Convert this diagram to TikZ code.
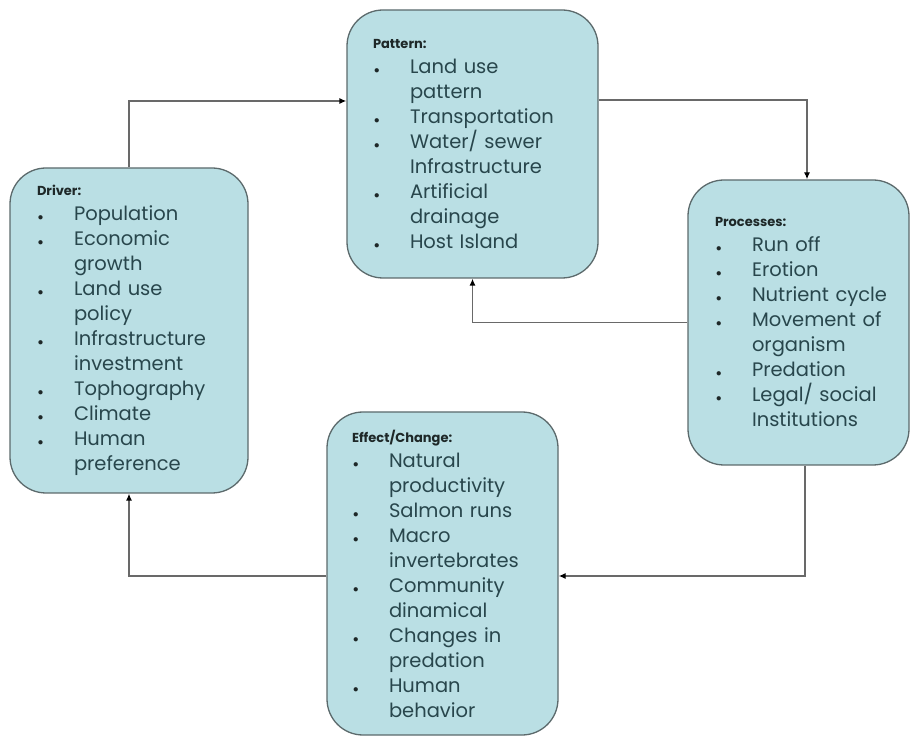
\documentclass[tikz,border=0pt]{standalone}
\usepackage{fontspec}
\setmainfont{Poppins}
\usetikzlibrary{arrows.meta}
\definecolor{boxfill}{RGB}{186,223,228}
\definecolor{boxline}{RGB}{92,106,108}
\definecolor{itemtext}{RGB}{40,70,76}
\definecolor{headtext}{RGB}{30,40,40}
\definecolor{linkgray}{RGB}{105,105,105}
\newcommand{\bitem}[1]{\mbox{\makebox[37pt][l]{\hspace{1pt}\textcolor{headtext}{\fontsize{11}{11}\selectfont$\bullet$}}#1}}
\newcommand{\bcont}[1]{\mbox{\hspace*{37pt}#1}}
\newcommand{\bhead}[1]{{\fontsize{13}{25}\selectfont\bfseries\color{headtext}#1}}
\begin{document}
\begin{tikzpicture}[x=1pt, y=1pt,
    stage/.style={draw=boxline, line width=1.3pt, fill=boxfill, rounded corners=36pt,
      align=left, inner xsep=0pt, text=itemtext, font=\fontsize{19.5}{25}\selectfont},
    link/.style={draw=linkgray, line width=1.3pt, -{Latex[length=7pt, width=6pt, color=black]}}]
  \useasboundingbox (0,0) rectangle (911,740);
  \node[stage, minimum width=238pt, minimum height=325pt, text width=184pt] (driver) at (129,409.5)
    {\bhead{Driver:}\\ \bitem{Population}\\ \bitem{Economic}\\ \bcont{growth}\\ \bitem{Land use}\\
     \bcont{policy}\\ \bitem{Infrastructure}\\ \bcont{investment}\\ \bitem{Tophography}\\
     \bitem{Climate}\\ \bitem{Human}\\ \bcont{preference}};
  \node[stage, minimum width=251pt, minimum height=268pt, text width=199pt] (pattern) at (472.5,596)
    {\bhead{Pattern:}\\ \bitem{Land use}\\ \bcont{pattern}\\ \bitem{Transportation}\\
     \bitem{Water/ sewer}\\ \bcont{Infrastructure}\\ \bitem{Artificial}\\ \bcont{drainage}\\
     \bitem{Host Island}};
  \node[stage, minimum width=221pt, minimum height=285pt, text width=167pt] (processes) at (798.5,417.5)
    {\bhead{Processes:}\\ \bitem{Run off}\\ \bitem{Erotion}\\ \bitem{Nutrient cycle}\\
     \bitem{Movement of}\\ \bcont{organism}\\ \bitem{Predation}\\ \bitem{Legal/ social}\\
     \bcont{Institutions}};
  \node[stage, minimum width=231pt, minimum height=323pt, text width=181pt] (effect) at (442.5,166.5)
    {\bhead{Effect/Change:}\\ \bitem{Natural}\\ \bcont{productivity}\\ \bitem{Salmon runs}\\
     \bitem{Macro}\\ \bcont{invertebrates}\\ \bitem{Community}\\ \bcont{dinamical}\\
     \bitem{Changes in}\\ \bcont{predation}\\ \bitem{Human}\\ \bcont{behavior}};
  \coordinate (c1) at (129,639);
  \coordinate (c2) at (807,640);
  \coordinate (c3) at (805,164);
  \draw[link] (driver.north) -- (c1) -- (c1 -| pattern.west);
  \draw[link] (c2 -| pattern.east) -- (c2) -- (c2 |- processes.north);
  \draw[link] (processes.west) -| (pattern.south);
  \draw[link] (c3 |- processes.south) -- (c3) -- (c3 -| effect.east);
  \draw[link] (effect.west |- c3) -| (driver.south);
\end{tikzpicture}
\end{document}
